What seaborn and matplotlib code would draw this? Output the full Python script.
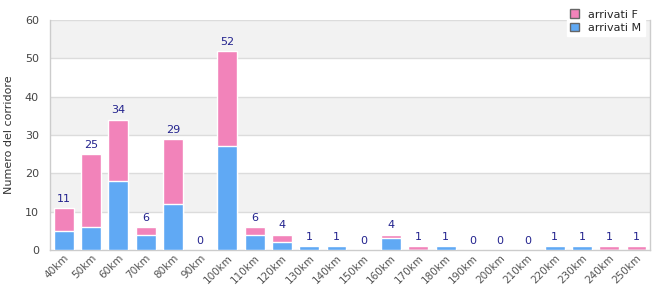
import numpy as np
import pandas as pd
import matplotlib
matplotlib.use("Agg")
import matplotlib.pyplot as plt
import seaborn as sns
from matplotlib.patches import Patch

CATEGORIES = [f"{d}km" for d in range(40, 260, 10)]
ARRIVATI_M = [5, 6, 18, 4, 12, 0, 27, 4, 2, 1, 1, 0, 3, 0, 1, 0, 0, 0, 1, 1, 0, 0]
ARRIVATI_F = [6, 19, 16, 2, 17, 0, 25, 2, 2, 0, 0, 0, 1, 1, 0, 0, 0, 0, 0, 0, 1, 1]

PINK = "#f283ba"
BLUE = "#60a9f4"
LABEL_COL = "#23238e"

df = pd.DataFrame({"dist": CATEGORIES, "M": ARRIVATI_M, "F": ARRIVATI_F})
df["tot"] = df["M"] + df["F"]

sns.set_theme(style="white")
plt.rcParams["font.family"] = ["DejaVu Sans"]

fig, ax = plt.subplots(figsize=(6.6, 3.0), dpi=100)
fig.subplots_adjust(left=0.076, right=0.985, top=0.933, bottom=0.167)

# alternating bands
for lo in (10, 30, 50):
    ax.axhspan(lo, lo + 10, color="#f2f2f2", zorder=0, lw=0)
for y in range(10, 70, 10):
    ax.axhline(y, color="#dcdcdc", lw=1, zorder=0.5)

sns.barplot(data=df, x="dist", y="tot", color=PINK, width=0.73, saturation=1, ax=ax, zorder=2)
sns.barplot(data=df, x="dist", y="M", color=BLUE, width=0.73, saturation=1, ax=ax, zorder=3)

for i, t in enumerate(df["tot"]):
    ax.text(i, t + 1.1, str(t), ha="center", va="bottom", fontsize=8, color=LABEL_COL, zorder=4)

ax.set_ylim(0, 60)
ax.set_xlim(-0.5, len(CATEGORIES) - 0.5)
ax.set_yticks(range(0, 70, 10))
ax.set_xlabel("")
ax.set_ylabel("Numero del corridore", fontsize=8, color="#333333", labelpad=8)
ax.tick_params(axis="y", labelsize=8, colors="#444444", length=0, pad=8)
ax.tick_params(axis="x", labelsize=7.5, colors="#555555", length=0, pad=2)
plt.setp(ax.get_xticklabels(), rotation=45, ha="right", rotation_mode="anchor")

for side in ("left", "bottom", "right"):
    ax.spines[side].set_color("#cccccc")
    ax.spines[side].set_linewidth(1)
ax.spines["top"].set_visible(False)

handles = [Patch(facecolor=PINK, edgecolor="#666666", label="arrivati F"),
           Patch(facecolor=BLUE, edgecolor="#666666", label="arrivati M")]
leg = ax.legend(handles=handles, loc="upper right", bbox_to_anchor=(1.0, 1.085),
                fontsize=8, frameon=True, fancybox=False, framealpha=1,
                edgecolor="white", handlelength=0.8, handleheight=0.8,
                handletextpad=0.8, labelspacing=0.3, borderpad=0.3)
leg.set_zorder(10)

fig.savefig("out.png", dpi=100)
